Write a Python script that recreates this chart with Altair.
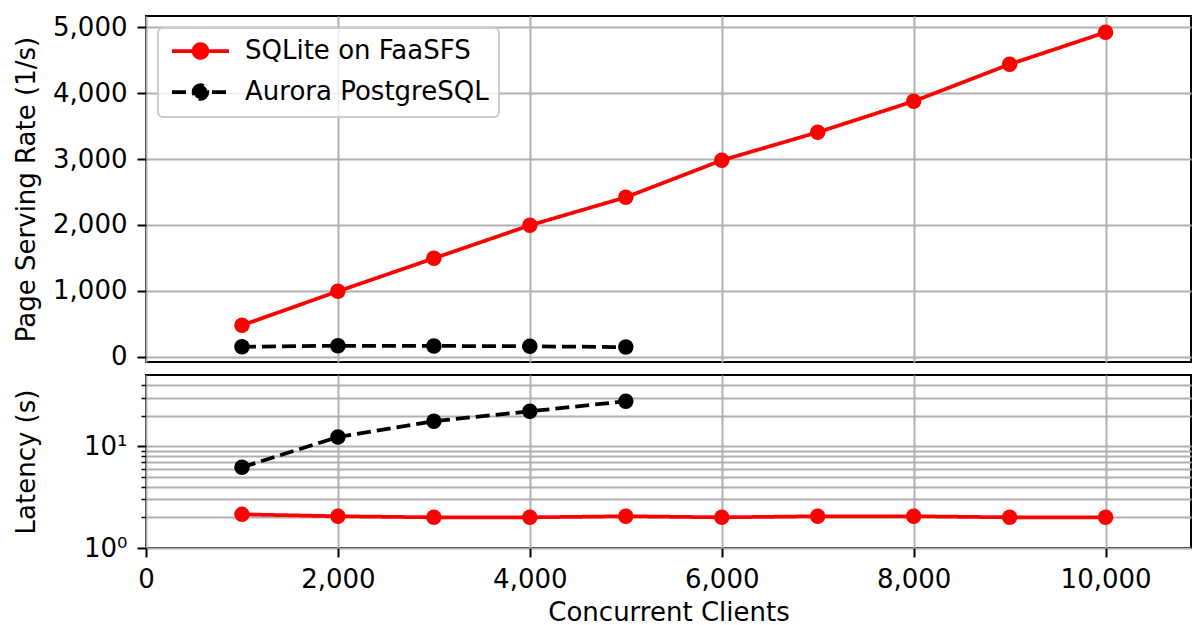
import altair as alt
import pandas as pd

SERIES = ["SQLite on FaaSFS", "Aurora PostgreSQL"]
COLORS = ["#ff0000", "#000000"]

clients_sqlite = [1000, 2000, 3000, 4000, 5000, 6000, 7000, 8000, 9000, 10000]
rate_sqlite = [480, 995, 1495, 1995, 2420, 2980, 3405, 3875, 4435, 4920]
latency_sqlite = [2.14, 2.05, 2.0, 2.0, 2.05, 2.0, 2.05, 2.05, 2.0, 2.0]

clients_aurora = [1000, 2000, 3000, 4000, 5000]
rate_aurora = [155, 170, 168, 162, 150]
latency_aurora = [6.2, 12.3, 17.6, 22.0, 27.6]

x_ticks = [0, 2000, 4000, 6000, 8000, 10000]
rate_ticks = [0, 1000, 2000, 3000, 4000, 5000]
latency_ticks = [1, 2, 3, 4, 5, 6, 7, 8, 9, 10, 20, 30, 40]

df = pd.DataFrame({
    "series": [SERIES[0]] * len(clients_sqlite) + [SERIES[1]] * len(clients_aurora),
    "clients": clients_sqlite + clients_aurora,
    "rate": rate_sqlite + rate_aurora,
    "latency": latency_sqlite + latency_aurora,
})

FONT = "DejaVu Sans"
FS = 26
W = 1045

LEG_PATH = ("M-3.17,0L3.17,0M-0.764,0A0.764,0.764,0,1,1,0.764,0"
            "A0.764,0.764,0,1,1,-0.764,0Z")


def make_panel(yfield, yscale, yaxis, height, xaxis, legend):
    x = alt.X("clients:Q", scale=alt.Scale(domain=[0, 10890], nice=False, zero=False), axis=xaxis)
    y = alt.Y(f"{yfield}:Q", scale=yscale, axis=yaxis)
    line = alt.Chart(df).mark_line(strokeWidth=3.75).encode(
        x=x, y=y,
        stroke=alt.Stroke("series:N", scale=alt.Scale(domain=SERIES, range=COLORS), legend=legend),
        strokeDash=alt.StrokeDash("series:N", scale=alt.Scale(domain=SERIES, range=[[1, 0], [14, 6]]), legend=legend),
    )
    pts = alt.Chart(df).mark_point(filled=True, size=240, opacity=1).encode(
        x=x, y=y,
        fill=alt.Fill("series:N", scale=alt.Scale(domain=SERIES, range=COLORS), legend=legend),
    )
    return alt.layer(line, pts).properties(width=W, height=height)


leg = alt.Legend(title=None, orient="none", legendX=12, legendY=12)

top = make_panel(
    "rate",
    alt.Scale(domain=[-76, 5167], nice=False, zero=False),
    alt.Axis(values=rate_ticks, format=",.0f", title="Page Serving Rate (1/s)",
             labelPadding=10,
             titleAngle=270, titleBaseline="alphabetic", titleX=-112),
    346,
    alt.Axis(values=x_ticks, labels=False, ticks=False, title=None, grid=True,
             minExtent=0, maxExtent=0),
    leg,
)

major_test = "datum.value == 1 || datum.value == 10"
bottom = make_panel(
    "latency",
    alt.Scale(type="log", domain=[1, 50], nice=False),
    alt.Axis(values=latency_ticks, title="Latency (s)",
             labelExpr="datum.value == 1 ? '10⁰' : (datum.value == 10 ? '10¹' : '')",
             labelPadding=10,
             tickSize={"condition": {"test": major_test, "value": 9}, "value": 5},
             tickWidth={"condition": {"test": major_test, "value": 2}, "value": 1.5},
             titleAngle=270, titleBaseline="alphabetic", titleX=-112),
    173,
    alt.Axis(values=x_ticks, format=",.0f", title="Concurrent Clients", labelFlush=False,
             labelPadding=9.5, titlePadding=6.5),
    None,
)

chart = (
    alt.vconcat(top, bottom, spacing=13, bounds="flush")
    .resolve_scale(stroke="independent", fill="independent", strokeDash="independent")
    .resolve_legend(stroke="independent", fill="independent", strokeDash="independent")
    .properties(padding={"left": 12, "top": 13, "right": 0, "bottom": 2})
    .configure_view(stroke="black", strokeWidth=2)
    .configure_axis(
        labelFont=FONT, labelFontSize=FS, labelColor="black",
        titleFont=FONT, titleFontSize=FS, titleFontWeight="normal", titleColor="black",
        tickColor="black", tickWidth=2, tickSize=9, labelPadding=8,
        gridColor="#b0b0b0", gridWidth=2, gridOpacity=1, domain=False,
        labelFlush=False, labelOverlap=False,
    )
    .configure_legend(
        labelFont=FONT, labelFontSize=FS, labelColor="black", labelLimit=0,
        symbolType=LEG_PATH, symbolSize=324, symbolStrokeWidth=3.75,
        symbolOffset=19.5, labelOffset=31.5, padding=10, rowPadding=11,
        fillColor="rgba(255,255,255,0.8)", strokeColor="#cccccc",
        cornerRadius=5, strokeWidth=2,
    )
)

chart.save("out.html", embed_options={"renderer": "svg", "actions": False})
